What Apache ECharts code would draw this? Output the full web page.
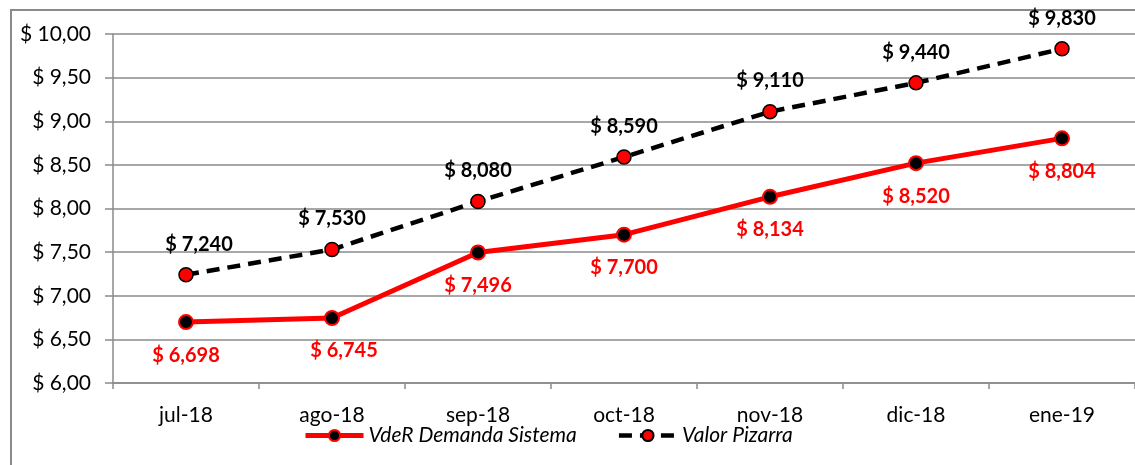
<!DOCTYPE html>
<html>
<head>
<meta charset="utf-8">
<script src="https://cdn.jsdelivr.net/npm/echarts@6/dist/echarts.min.js"></script>
<style>
  html, body { margin: 0; padding: 0; background: #fff; }
  #chart { width: 1135px; height: 465px; }
</style>
</head>
<body>
<div id="chart"></div>
<script>
const months = ['jul-18', 'ago-18', 'sep-18', 'oct-18', 'nov-18', 'dic-18', 'ene-19']
const vderDemanda = [6.698, 6.745, 7.496, 7.700, 8.134, 8.520, 8.804]
const valorPizarra = [7.240, 7.530, 8.080, 8.590, 9.110, 9.440, 9.830]

const font = 'Lato, "Open Sans", sans-serif'
const money = (v, d) => '$ ' + v.toFixed(d).replace('.', ',')

const chart = echarts.init(document.getElementById('chart'))

chart.setOption({
  animation: false,
  textStyle: { fontFamily: font },
  graphic: [{
    type: 'rect',
    shape: { x: 11, y: 10, width: 1200, height: 500 },
    style: { fill: 'none', stroke: '#8a8a8a', lineWidth: 2 },
    silent: true
  }],
  grid: { left: 113, top: 34, width: 1034, height: 349 },
  legend: {
    bottom: 14,
    left: 298,
    itemWidth: 58,
    itemHeight: 14,
    itemGap: 40,
    lineStyle: { width: 'inherit' },
    textStyle: { fontSize: 21, fontStyle: 'italic', color: '#000', fontFamily: font }
  },
  xAxis: {
    type: 'category',
    data: months,
    axisLine: { lineStyle: { color: '#8a8a8a', width: 1.5 } },
    axisTick: { show: true, length: 6, lineStyle: { color: '#8a8a8a', width: 1.5 } },
    axisLabel: { color: '#000', fontSize: 21, margin: 22 }
  },
  yAxis: {
    type: 'value',
    min: 6,
    max: 10,
    interval: 0.5,
    axisLine: { show: true, lineStyle: { color: '#8a8a8a', width: 1.5 } },
    axisTick: { show: true, length: 8, lineStyle: { color: '#8a8a8a', width: 1.5 } },
    splitLine: { lineStyle: { color: '#8a8a8a', width: 1.5 } },
    axisLabel: {
      color: '#000',
      fontSize: 21,
      margin: 22,
      formatter: v => money(v, 2)
    }
  },
  series: [
    {
      name: 'VdeR Demanda Sistema',
      type: 'line',
      data: vderDemanda.map((v, i) => i === 1 ? { value: v, label: { offset: [12, 0] } } : v),
      symbol: 'circle',
      symbolSize: 14,
      lineStyle: { color: '#ff0000', width: 5 },
      itemStyle: { color: '#000', borderColor: '#ff0000', borderWidth: 2 },
      label: {
        show: true,
        position: 'bottom',
        distance: 15,
        color: '#ff0000',
        fontWeight: 'bold',
        fontSize: 20,
        formatter: p => money(p.value, 3)
      },
      z: 3
    },
    {
      name: 'Valor Pizarra',
      type: 'line',
      data: valorPizarra.map((v, i) => i === 0 ? { value: v, label: { offset: [13, 0] } } : v),
      symbol: 'circle',
      symbolSize: 14,
      lineStyle: { color: '#000', width: 4.5, type: [13, 8] },
      itemStyle: { color: '#ff0000', borderColor: '#000', borderWidth: 1.5 },
      label: {
        show: true,
        position: 'top',
        distance: 13,
        color: '#000',
        fontWeight: 'bold',
        fontSize: 20,
        formatter: p => money(p.value, 3)
      },
      z: 4
    }
  ]
})
</script>
</body>
</html>
